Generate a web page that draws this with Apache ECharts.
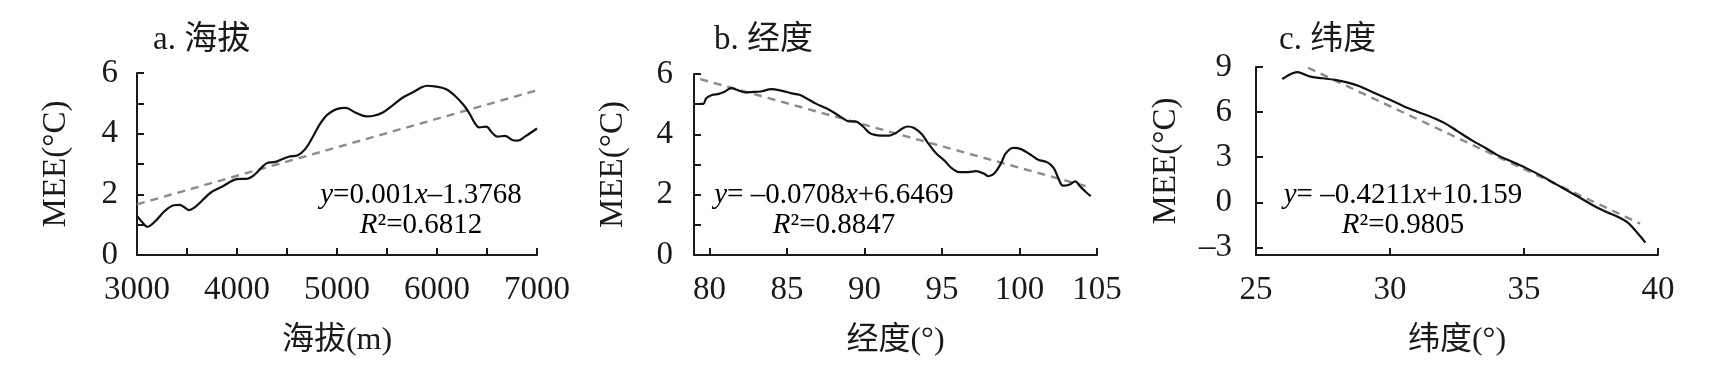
<!DOCTYPE html>
<html>
<head>
<meta charset="utf-8">
<script src="https://cdn.jsdelivr.net/npm/echarts@6/dist/echarts.min.js"></script>
<style>
html,body{margin:0;padding:0;background:#fff;}
#c{width:1712px;height:379px;}
</style>
</head>
<body>
<div id="c"></div>
<script>
// ---- Data ----
const altX = [3000,3055,3103,3185,3277,3370,3425,3480,3517,3573,3647,3739,3850,3998,4109,4183,4294,4386,4516,4608,4682,4756,4830,4904,4996,5089,5181,5292,5366,5458,5551,5662,5773,5847,5902,5976,6087,6179,6272,6327,6383,6420,6494,6549,6605,6679,6753,6808,6882,7000];
const altMEE = [1.29,1.07,0.93,1.12,1.45,1.64,1.65,1.56,1.48,1.56,1.78,2.06,2.25,2.50,2.52,2.67,3.02,3.07,3.24,3.29,3.49,3.88,4.32,4.63,4.81,4.85,4.70,4.57,4.59,4.70,4.92,5.20,5.39,5.53,5.58,5.56,5.47,5.25,4.92,4.65,4.32,4.21,4.23,4.04,3.90,3.93,3.79,3.77,3.91,4.17];
const altTrendX = [3000,7000];
const altTrendY = [1.67,5.43];

const lonX = [79.4,79.6,79.8,80.2,80.6,81.0,81.4,81.8,82.3,82.7,83.3,84.0,84.6,85.3,85.8,86.3,86.9,87.5,88.1,88.7,89.0,89.4,89.9,90.3,90.6,91.1,91.6,92.0,92.5,92.8,93.2,93.7,94.1,94.6,95.2,95.6,96.1,96.7,97.2,97.7,98.0,98.4,98.8,99.1,99.6,100.1,100.7,101.2,101.8,102.2,102.5,102.8,103.2,103.6,103.9,104.3,104.6];
const lonMEE = [5.01,5.01,5.20,5.31,5.34,5.42,5.53,5.47,5.39,5.40,5.42,5.50,5.45,5.36,5.31,5.18,5.01,4.87,4.70,4.50,4.43,4.43,4.26,4.06,3.99,3.96,3.96,4.04,4.21,4.26,4.21,4.00,3.71,3.38,3.11,2.89,2.75,2.75,2.78,2.70,2.61,2.72,3.03,3.36,3.55,3.51,3.33,3.16,3.07,2.89,2.55,2.30,2.33,2.44,2.28,2.08,1.95];
const lonTrendX = [79.4,104.5];
const lonTrendY = [5.83,2.25];

const latX = [25.98,26.18,26.39,26.55,26.73,27.07,27.48,27.95,28.43,28.84,29.38,29.93,30.47,31.02,31.56,32.04,32.51,33.06,33.60,34.01,34.56,35.10,35.65,36.19,36.74,37.28,37.69,38.10,38.51,38.85,39.12,39.33,39.53];
const latMEE = [8.20,8.42,8.60,8.66,8.56,8.34,8.25,8.14,7.96,7.74,7.31,6.87,6.43,6.03,5.66,5.27,4.74,4.12,3.58,3.14,2.70,2.26,1.76,1.21,0.66,0.11,-0.31,-0.66,-0.97,-1.32,-1.80,-2.24,-2.68];
const latTrendX = [26.94,39.33];
const latTrendY = [8.95,-1.41];

const lonTicks = [80,85,90,95,100,105];
const latYTicks = [-3,0,3,6,9];

const titles = ['a. 海拔','b. 经度','c. 纬度'];
const xNames = ['海拔(m)','经度(°)','纬度(°)'];
const yName = 'MEE(°C)';
const eq1 = [['y','=0.001','x','–1.3768'],['y','= –0.0708','x','+6.6469'],['y','= –0.4211','x','+10.159']];
const eq2 = ['0.6812','0.8847','0.9805'];

// ---- Styling ----
const FONT = "'Liberation Serif','Noto Sans CJK SC',serif";
const INK = '#1a1a1a';
const LBL = 33;
const pairs = (xs, ys) => xs.map((x, i) => [x, ys[i]]);
const tickStyle = {show: true, inside: true, length: 7, lineStyle: {color: INK, width: 2}};
const xLabel = extra => Object.assign({fontFamily: FONT, fontSize: LBL, color: INK, margin: 19}, extra || {});
const yLabel = extra => Object.assign({fontFamily: FONT, fontSize: LBL, color: INK, margin: 19}, extra || {});

function xAxisBase(gi, extra) {
  return Object.assign({
    type: 'value', gridIndex: gi,
    name: xNames[gi], nameLocation: 'middle', nameGap: 70,
    nameTextStyle: {fontFamily: FONT, fontSize: 32, color: INK},
    axisLine: {show: true, onZero: false, lineStyle: {color: INK, width: 2}},
    axisTick: tickStyle,
    axisLabel: xLabel(),
    splitLine: {show: false}
  }, extra);
}
function yAxisBase(gi, extra) {
  return Object.assign({
    type: 'value', gridIndex: gi,
    name: yName, nameLocation: 'middle', nameGap: 64,
    nameTextStyle: {fontFamily: FONT, fontSize: 33, color: INK},
    axisLine: {show: true, onZero: false, lineStyle: {color: INK, width: 2}},
    axisTick: tickStyle,
    axisLabel: yLabel(),
    splitLine: {show: false}
  }, extra);
}
const evenOnly = v => (Math.round(v) % 2 === 0 ? String(v) : '');

const option = {
  animation: false,
  backgroundColor: '#fff',
  grid: [
    {left: 137, top: 73, width: 400, height: 182},
    {left: 694, top: 74, width: 403, height: 181},
    {left: 1256, top: 67, width: 402, height: 188}
  ],
  xAxis: [
    xAxisBase(0, {min: 3000, max: 7000, interval: 500,
      axisLabel: xLabel({formatter: v => (v % 1000 === 0 ? String(v) : '')})}),
    xAxisBase(1, {min: 79, max: 105,
      axisTick: Object.assign({}, tickStyle, {customValues: lonTicks}),
      axisLabel: xLabel({customValues: lonTicks})}),
    xAxisBase(2, {min: 25, max: 40, interval: 5})
  ],
  yAxis: [
    yAxisBase(0, {min: 0, max: 6, interval: 1,
      axisLabel: yLabel({margin: 19, formatter: evenOnly})}),
    yAxisBase(1, {min: 0, max: 6, interval: 1,
      axisLabel: yLabel({margin: 21, formatter: evenOnly})}),
    yAxisBase(2, {min: -3.5, max: 9, nameGap: 73,
      axisTick: Object.assign({}, tickStyle, {customValues: latYTicks}),
      axisLabel: yLabel({margin: 24, customValues: latYTicks,
        formatter: v => String(v).replace('-', '–')})})
  ],
  series: [
    {type: 'line', xAxisIndex: 0, yAxisIndex: 0, data: pairs(altTrendX, altTrendY), showSymbol: false,
      lineStyle: {color: '#8c8c8c', width: 2.4, type: [8, 6]}, z: 1},
    {type: 'line', xAxisIndex: 0, yAxisIndex: 0, data: pairs(altX, altMEE), showSymbol: false, smooth: 0.35,
      lineStyle: {color: '#111', width: 2.2}, z: 2},
    {type: 'line', xAxisIndex: 1, yAxisIndex: 1, data: pairs(lonTrendX, lonTrendY), showSymbol: false,
      lineStyle: {color: '#8c8c8c', width: 2.4, type: [8, 6]}, z: 1},
    {type: 'line', xAxisIndex: 1, yAxisIndex: 1, data: pairs(lonX, lonMEE), showSymbol: false, smooth: 0.35,
      lineStyle: {color: '#111', width: 2.2}, z: 2},
    {type: 'line', xAxisIndex: 2, yAxisIndex: 2, data: pairs(latTrendX, latTrendY), showSymbol: false,
      lineStyle: {color: '#8c8c8c', width: 2.4, type: [8, 6]}, z: 1},
    {type: 'line', xAxisIndex: 2, yAxisIndex: 2, data: pairs(latX, latMEE), showSymbol: false, smooth: 0.35,
      lineStyle: {color: '#111', width: 2.2}, z: 2}
  ],
  graphic: []
};

// Titles and equations as text
const titlePos = [[153, 40], [714, 40], [1279, 40]];
const eqPos = [[421, 195], [834, 195], [1403, 195]];
const eqRich = {
  n: {fontFamily: FONT, fontSize: 29, color: INK},
  i: {fontFamily: FONT, fontSize: 29, color: INK, fontStyle: 'italic'}
};
for (let k = 0; k < 3; k++) {
  option.graphic.push({
    type: 'text', x: titlePos[k][0], y: titlePos[k][1],
    style: {text: titles[k], font: "33px " + FONT, fill: INK, align: 'left', verticalAlign: 'middle'}
  });
  const e = eq1[k];
  option.graphic.push({
    type: 'text', x: eqPos[k][0], y: eqPos[k][1],
    style: {text: '{i|' + e[0] + '}{n|' + e[1] + '}{i|' + e[2] + '}{n|' + e[3] + '}',
      rich: eqRich, align: 'center', verticalAlign: 'middle'}
  });
  option.graphic.push({
    type: 'text', x: eqPos[k][0], y: eqPos[k][1] + 30,
    style: {text: '{i|R}{n|²=' + eq2[k] + '}',
      rich: eqRich, align: 'center', verticalAlign: 'middle'}
  });
}

const chart = echarts.init(document.getElementById('c'), null, {renderer: 'canvas'});
chart.setOption(option);
</script>
</body>
</html>
